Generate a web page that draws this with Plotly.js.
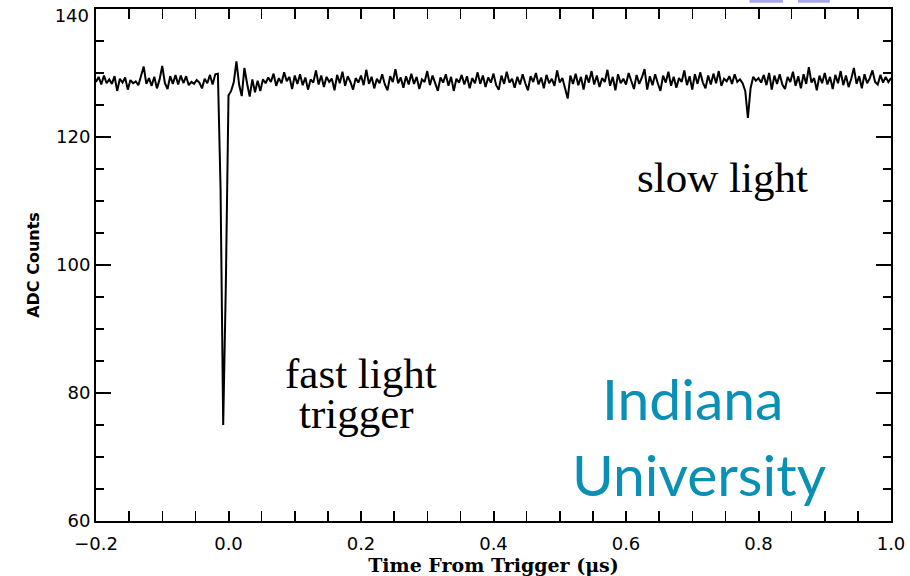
<!DOCTYPE html>
<html>
<head>
<meta charset="utf-8">
<script src="https://cdn.plot.ly/plotly-3.0.1.min.js"></script>
<style>html,body{margin:0;padding:0;background:#fff;}#chart{width:910px;height:576px;}</style>
</head>
<body>
<div id="chart"></div>
<script>
// Sampling of the waveform (microseconds)
const timeStart = -0.2;
const timeStep = 0.004;

// ADC counts, one sample per timeStep starting at timeStart
const adcCounts = [
128.6,129.4,128.2,129.6,128.4,129.0,128.3,129.5,127.2,129.1,128.5,129.3,127.4,128.9,128.4,128.7,128.1,129.6,131.0,128.3,
129.2,128.0,129.4,127.6,129.0,131.1,128.4,127.5,129.5,128.3,129.7,128.2,129.6,128.4,129.5,128.1,128.6,128.3,128.9,128.5,
127.6,129.1,128.4,129.7,128.2,129.8,129.9,112.0,75.0,97.0,126.5,127.2,128.6,131.8,128.2,126.4,130.8,128.4,126.3,129.0,
127.0,128.8,127.2,129.0,128.4,129.3,128.6,129.9,128.0,129.2,128.4,130.1,128.7,129.4,127.5,129.6,128.3,129.8,128.1,129.3,
127.4,129.0,128.5,130.4,128.2,129.6,127.8,129.4,128.6,129.1,127.3,129.7,128.4,130.2,128.0,129.5,128.6,127.4,129.2,128.5,
129.6,128.1,130.5,128.3,129.4,127.6,129.1,128.4,129.8,128.2,127.3,129.5,128.6,130.6,128.4,129.3,127.7,129.5,128.2,129.9,
128.3,129.4,127.5,129.0,128.6,130.3,128.1,129.6,128.4,127.2,129.3,128.5,129.8,128.0,129.4,127.2,129.1,128.5,129.7,128.2,
129.5,127.6,129.2,128.4,130.1,128.3,129.6,127.8,129.3,128.5,129.9,128.1,127.4,129.6,128.3,130.2,128.5,129.1,127.7,129.4,
128.2,129.8,128.4,127.3,129.5,128.6,130.0,128.2,129.3,127.6,129.7,128.4,129.1,128.0,130.4,128.5,129.2,127.5,126.0,129.6,
128.3,129.9,128.1,129.4,127.4,129.7,128.5,130.3,128.2,129.6,127.8,129.2,128.6,130.5,128.0,129.4,127.3,129.8,128.4,129.1,
128.2,130.0,128.6,127.5,129.7,128.3,129.3,130.6,127.4,129.5,128.1,129.8,128.4,127.2,129.6,128.5,130.2,128.0,129.4,127.7,
129.2,128.6,130.4,128.1,129.5,127.4,129.8,128.3,130.1,128.5,127.6,129.6,128.2,129.9,128.4,130.3,128.0,129.1,128.7,129.5,
128.3,129.8,128.6,129.0,128.4,127.2,123.0,127.6,129.4,128.8,129.2,128.5,129.7,128.1,130.0,127.4,129.6,128.3,129.8,128.2,
127.5,129.4,128.6,130.2,128.0,129.5,127.6,129.8,128.3,130.9,128.5,129.2,127.3,129.6,128.4,130.0,128.2,129.4,127.5,129.7,
128.4,130.3,128.1,129.6,127.8,129.1,130.8,128.3,129.5,127.6,129.8,128.4,129.2,130.4,128.6,128.2,129.7,128.5,129.4,128.6,129.2
];

// Axis ranges and labels
const xRange = [-0.2, 1.0];
const yRange = [60, 140];
const xTickVals = [-0.2, 0.0, 0.2, 0.4, 0.6, 0.8, 1.0];
const xTickText = ["\u22120.2", "0.0", "0.2", "0.4", "0.6", "0.8", "1.0"];
const yTickVals = [60, 80, 100, 120, 140];
const yTickText = ["60", "80", "100", "120", ""];
// The top label is drawn on an overlaid axis so it can sit just inside the frame
const yTopTickVals = [140];
const yTopTickText = ["140"];

// Text labels (one entry per line)
const labelSlow = "slow light";
const labelFastLines = ["fast light", "trigger"];
const labelInstitutionLines = ["Indiana", "University"];

const trace = {
  type: "scatter",
  mode: "lines",
  x0: timeStart,
  dx: timeStep,
  y: adcCounts,
  line: {color: "#000", width: 2},
  hoverinfo: "skip"
};
// empty helper trace so the overlaid label axis is built
const labelAxisTrace = {type: "scatter", mode: "lines", x: [], y: [], yaxis: "y2", hoverinfo: "skip"};

const tickFont = {family: "DejaVu Sans, Verdana, sans-serif", size: 18, color: "#000"};

const axisCommon = {
  showline: true,
  linecolor: "#000",
  linewidth: 2,
  mirror: "allticks",
  ticks: "inside",
  tickcolor: "#000",
  tickwidth: 2,
  showgrid: false,
  zeroline: false,
  ticklabeloverflow: "allow",
  tickfont: tickFont
};

const serif = "Liberation Serif, Times New Roman, serif";
const annText = (text, x, y, font) => ({
  text: text, xref: "paper", yref: "paper", x: x, y: y,
  xanchor: "center", yanchor: "middle", showarrow: false, font: font
});
const blackSerif = {family: serif, size: 43, color: "#000"};
const iuFont = {family: "Lato, Open Sans, sans-serif", size: 57, color: "#0a8fb5"};

const layout = {
  width: 910,
  height: 576,
  margin: {l: 96, r: 19, t: 9, b: 55},
  paper_bgcolor: "#fff",
  plot_bgcolor: "#fff",
  showlegend: false,
  xaxis: Object.assign({}, axisCommon, {
    range: xRange,
    tickmode: "array",
    tickvals: xTickVals,
    ticktext: xTickText,
    ticklen: 10,
    ticklabelstandoff: 5,
    minor: {dtick: 0.05, ticklen: 5, tickcolor: "#000", tickwidth: 1.5, ticks: "inside"},
    title: {text: "Time From Trigger (\u03bcs)", standoff: 3,
      font: {family: "DejaVu Serif, serif", size: 19, color: "#000", weight: "bold"}}
  }),
  yaxis: Object.assign({}, axisCommon, {
    range: yRange,
    tickmode: "array",
    tickvals: yTickVals,
    ticktext: yTickText,
    ticklen: 15,
    minor: {dtick: 5, ticklen: 8, tickcolor: "#000", tickwidth: 1.5, ticks: "inside"},
    title: {text: "ADC Counts", standoff: 12,
      font: {family: "DejaVu Sans, Verdana, sans-serif", size: 16, color: "#000", weight: "bold"}}
  }),
  yaxis2: {
    overlaying: "y",
    side: "left",
    range: yRange,
    tickmode: "array",
    tickvals: yTopTickVals,
    ticktext: yTopTickText,
    ticks: "",
    showline: false,
    showgrid: false,
    zeroline: false,
    ticklabelshift: 7,
    ticklabelstandoff: 6,
    ticklabeloverflow: "allow",
    tickfont: tickFont
  },
  annotations: [
    annText(labelSlow, 0.7875, 0.670, blackSerif),
    annText(labelFastLines[0], 0.333, 0.289, blackSerif),
    annText(labelFastLines[1], 0.328, 0.209, blackSerif),
    annText(labelInstitutionLines[0], 0.750, 0.240, iuFont),
    annText(labelInstitutionLines[1], 0.759, 0.092, iuFont)
  ],
  shapes: [
    {type: "rect", xref: "paper", yref: "paper", x0: 0.822, x1: 0.864, y0: 1.012, y1: 1.03,
      fillcolor: "#a6a6ec", line: {width: 0}},
    {type: "rect", xref: "paper", yref: "paper", x0: 0.883, x1: 0.923, y0: 1.012, y1: 1.03,
      fillcolor: "#a6a6ec", line: {width: 0}}
  ]
};

Plotly.newPlot("chart", [trace, labelAxisTrace], layout, {displayModeBar: false, staticPlot: true});
</script>
</body>
</html>
